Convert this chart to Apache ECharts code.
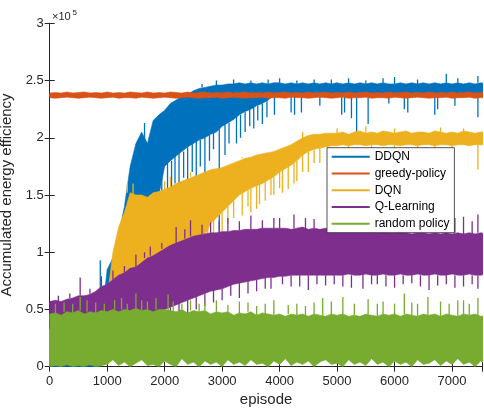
<!DOCTYPE html>
<html>
<head>
<meta charset="utf-8">
<script src="https://cdn.jsdelivr.net/npm/echarts@6/dist/echarts.min.js"></script>
<style>html,body{margin:0;padding:0;background:#fff}#c{width:484px;height:412px}</style>
</head>
<body>
<div id="c"></div>
<script>
// episode sample positions (every 100 episodes)
const episodes = [0,100,200,300,400,500,600,700,800,900,
1000,1100,1200,1300,1400,1500,1600,1700,1800,1900,
2000,2100,2200,2300,2400,2500,2600,2700,2800,2900,
3000,3100,3200,3300,3400,3500,3600,3700,3800,3900,
4000,4100,4200,4300,4400,4500,4600,4700,4800,4900,
5000,5100,5200,5300,5400,5500,5600,5700,5800,5900,
6000,6100,6200,6300,6400,6500,6600,6700,6800,6900,
7000,7100,7200,7300,7400,7500,7600];

// values in units of 10^5: typical upper / lower edge of each noisy curve,
// plus the isolated spikes ([episode, value]) that stick out of the band
const ddqnHi = [0.30,0.31,0.30,0.32,0.30,0.31,0.30,0.31,0.32,0.40,
0.85,0.95,1.15,1.40,1.75,1.95,2.05,1.95,2.15,2.20,
2.24,2.30,2.33,2.36,2.38,2.41,2.43,2.44,2.45,2.46,
2.46,2.47,2.47,2.48,2.47,2.48,2.47,2.48,2.47,2.48,
2.48,2.47,2.48,2.47,2.48,2.47,2.48,2.47,2.48,2.47,
2.48,2.47,2.48,2.47,2.48,2.47,2.48,2.47,2.48,2.47,
2.47,2.48,2.47,2.48,2.47,2.48,2.47,2.48,2.47,2.48,
2.47,2.48,2.47,2.48,2.47,2.48,2.47];
const ddqnLo = [0.00,0.00,0.00,0.00,0.00,0.00,0.00,0.00,0.00,0.00,
0.50,0.60,0.70,0.90,1.05,1.15,1.20,1.25,1.30,1.50,
1.75,1.80,1.84,1.88,1.92,1.95,1.98,2.00,2.03,2.05,
2.10,2.13,2.16,2.20,2.23,2.25,2.28,2.30,2.33,2.37,
2.37,2.37,2.37,2.37,2.37,2.37,2.37,2.37,2.37,2.37,
2.37,2.37,2.37,2.37,2.37,2.37,2.37,2.37,2.37,2.37,
2.37,2.37,2.37,2.37,2.37,2.37,2.37,2.37,2.37,2.37,
2.37,2.37,2.37,2.37,2.37,2.37,2.37];
const ddqnUpSpikes = [[880,0.93],[1650,2.13],[2650,2.47],[2900,2.50],[3200,2.51],[3500,2.50],
[3800,2.51],[4000,2.52],[4300,2.50],[4600,2.51],[4900,2.51],[5200,2.52],[5500,2.50],[5800,2.52],
[6000,2.53],[6400,2.51],[6900,2.56],[7100,2.52],[7450,2.54]];
const ddqnDownSpikes = [[1450,1.45],[1550,1.50],[1620,1.55],[1700,1.45],[1780,1.60],[1850,1.55],
[1950,1.50],[2050,1.45],[2120,1.55],[2180,1.60],[2250,1.50],[2330,1.65],[2400,1.58],[2480,1.70],
[2550,1.63],[2620,1.75],[2700,1.70],[2780,1.80],[2850,1.90],[2950,1.15],[3050,1.85],[3120,1.95],
[3250,1.95],[3320,2.00],[3400,2.05],[3480,2.10],[3550,2.08],[3620,2.15],[3700,2.12],[3780,2.18],
[3910,2.20],[4200,2.22],[4260,2.20],[4380,2.22],[4700,2.28],[5080,2.20],[5130,2.22],[5250,2.17],
[5340,2.05],[5540,2.12],[5900,2.30],[6170,2.25],[6230,2.22],[6700,2.20],[6750,2.25],[7050,2.28],
[7450,2.18]];

const greedyHi = [2.39,2.395,2.39,2.40,2.39,2.395,2.40,2.39,2.395,2.39,
2.40,2.39,2.395,2.39,2.40,2.395,2.39,2.40,2.39,2.395,
2.39,2.40,2.395,2.39,2.40,2.39,2.395,2.40,2.39,2.395,
2.39,2.40,2.39,2.395,2.40,2.39,2.395,2.39,2.40,2.39,
2.395,2.40,2.39,2.395,2.39,2.40,2.39,2.395,2.40,2.39,
2.395,2.39,2.40,2.39,2.395,2.40,2.39,2.395,2.39,2.40,
2.39,2.395,2.40,2.39,2.395,2.39,2.40,2.39,2.395,2.39,
2.40,2.39,2.395,2.40,2.39,2.395,2.39];
const greedyLo = [2.35,2.345,2.35,2.355,2.35,2.345,2.35,2.355,2.35,2.345,
2.35,2.355,2.345,2.35,2.35,2.345,2.355,2.35,2.345,2.35,
2.355,2.35,2.345,2.35,2.355,2.35,2.345,2.35,2.35,2.355,
2.345,2.35,2.355,2.35,2.345,2.35,2.35,2.355,2.345,2.35,
2.35,2.345,2.355,2.35,2.35,2.345,2.35,2.355,2.35,2.345,
2.35,2.355,2.345,2.35,2.35,2.355,2.345,2.35,2.35,2.345,
2.355,2.35,2.345,2.35,2.355,2.35,2.345,2.35,2.35,2.355,
2.345,2.35,2.35,2.355,2.345,2.35,2.35];
const greedyUpSpikes = [];
const greedyDownSpikes = [];

const dqnHi = [0.33,0.33,0.33,0.33,0.33,0.33,0.33,0.33,0.33,0.33,
0.60,1.00,1.22,1.35,1.52,1.50,1.50,1.48,1.52,1.53,
1.55,1.57,1.60,1.62,1.64,1.66,1.68,1.70,1.72,1.73,
1.74,1.76,1.78,1.80,1.82,1.83,1.85,1.86,1.87,1.88,
1.90,1.92,1.94,1.97,2.00,2.02,2.03,2.03,2.04,2.04,
2.04,2.05,2.03,2.05,2.06,2.04,2.05,2.04,2.06,2.05,
2.04,2.05,2.06,2.04,2.05,2.05,2.04,2.06,2.05,2.04,
2.05,2.04,2.06,2.05,2.04,2.05,2.05];
const dqnLo = [0.02,0.02,0.02,0.02,0.02,0.02,0.02,0.02,0.02,0.02,
0.05,0.55,0.60,0.64,0.68,0.72,0.75,0.78,0.82,0.85,
0.90,0.95,0.98,1.00,1.03,1.05,1.10,1.15,1.25,1.30,
1.35,1.40,1.45,1.50,1.53,1.56,1.58,1.60,1.63,1.66,
1.70,1.73,1.76,1.80,1.85,1.88,1.90,1.91,1.92,1.93,
1.93,1.94,1.93,1.94,1.94,1.93,1.94,1.94,1.93,1.94,
1.94,1.93,1.94,1.94,1.93,1.94,1.94,1.93,1.94,1.94,
1.93,1.94,1.94,1.93,1.94,1.94,1.93];
const dqnUpSpikes = [[1350,1.60],[1450,1.60],[2000,1.62],[2100,1.66],[2450,1.70],[3350,1.83],
[4400,2.05],[5000,2.08],[5500,2.10],[6000,2.08],[6800,2.09],[7200,2.08]];
const dqnDownSpikes = [[2600,1.05],[2750,1.10],[2850,1.15],[3000,1.15],[3100,1.25],[3200,1.30],
[3350,1.32],[3450,1.40],[3500,1.35],[3600,1.38],[3650,1.42],[3750,1.45],[3850,1.50],[3900,1.50],
[4000,1.56],[4050,1.52],[4150,1.55],[4250,1.60],[4300,1.62],[4400,1.70],[4500,1.70],[4600,1.78],
[4700,1.78],[5200,1.85],[5600,1.88],[6000,1.87],[6400,1.87],[6700,1.86],[7000,1.88],[7450,1.72]];

const qlHi = [0.57,0.58,0.57,0.59,0.60,0.62,0.62,0.63,0.66,0.70,
0.72,0.76,0.80,0.82,0.86,0.87,0.91,0.95,0.97,1.00,
1.03,1.06,1.08,1.10,1.12,1.14,1.15,1.16,1.17,1.17,
1.18,1.18,1.19,1.19,1.20,1.20,1.20,1.21,1.21,1.21,
1.21,1.21,1.20,1.21,1.22,1.20,1.21,1.20,1.21,1.20,
1.20,1.19,1.20,1.19,1.18,1.19,1.18,1.17,1.18,1.17,
1.17,1.18,1.17,1.16,1.17,1.17,1.16,1.17,1.16,1.17,
1.16,1.17,1.16,1.17,1.16,1.17,1.16];
const qlLo = [0.40,0.40,0.40,0.40,0.40,0.40,0.40,0.40,0.40,0.40,
0.42,0.42,0.43,0.43,0.44,0.44,0.45,0.45,0.46,0.47,
0.50,0.52,0.54,0.56,0.58,0.60,0.62,0.64,0.66,0.67,
0.68,0.70,0.72,0.73,0.74,0.75,0.76,0.77,0.78,0.78,
0.79,0.79,0.80,0.80,0.80,0.80,0.80,0.80,0.80,0.80,
0.80,0.80,0.81,0.80,0.80,0.81,0.80,0.80,0.81,0.80,
0.80,0.81,0.80,0.80,0.81,0.80,0.80,0.81,0.80,0.80,
0.81,0.80,0.80,0.81,0.80,0.80,0.81];
const qlUpSpikes = [[150,0.62],[350,0.64],[530,0.78],[700,0.68],[900,0.79],[1100,0.84],[1300,0.88],
[1500,0.98],[1650,1.00],[1750,1.05],[1950,1.08],[2200,1.22],[2350,1.20],[2450,1.28],[2650,1.24],
[2800,1.26],[2950,1.27],[3100,1.30],[3300,1.27],[3500,1.32],[3700,1.28],[3900,1.30],[4000,1.30],
[4250,1.33],[4450,1.30],[4600,1.29],[4900,1.32],[5100,1.30],[5300,1.34],[5450,1.30],[5600,1.28],
[5900,1.30],[6050,1.27],[6200,1.28],[6350,1.30],[6500,1.34],[6700,1.28],[6900,1.27],[7050,1.30],
[7200,1.31],[7350,1.27],[7450,1.33]];
const qlDownSpikes = [[2100,0.44],[2250,0.46],[2400,0.47],[2550,0.50],[2700,0.53],[2850,0.56],
[3000,0.58],[3150,0.62],[3300,0.60],[3450,0.64],[3600,0.66],[3750,0.68],[3850,0.68],[4050,0.72],
[4200,0.70],[4350,0.70],[4500,0.67],[4650,0.72],[4800,0.71],[4950,0.72],[5100,0.70],[5250,0.69],
[5450,0.68],[5600,0.72],[5700,0.72],[5850,0.70],[6000,0.69],[6150,0.72],[6300,0.73],[6450,0.70],
[6600,0.67],[6750,0.71],[6900,0.72],[7050,0.69],[7200,0.70],[7350,0.72],[7450,0.68]];

const randHi = [0.46,0.47,0.45,0.48,0.47,0.49,0.46,0.48,0.47,0.49,
0.48,0.50,0.48,0.50,0.49,0.51,0.49,0.50,0.48,0.50,
0.50,0.49,0.48,0.50,0.47,0.49,0.48,0.49,0.46,0.48,
0.47,0.48,0.45,0.47,0.46,0.48,0.45,0.47,0.46,0.45,
0.46,0.44,0.46,0.45,0.46,0.44,0.46,0.45,0.44,0.46,
0.45,0.46,0.44,0.45,0.44,0.46,0.45,0.44,0.46,0.45,
0.46,0.44,0.46,0.45,0.44,0.46,0.45,0.46,0.44,0.46,
0.45,0.44,0.46,0.45,0.46,0.44,0.45];
const randLo = [0.00,0.01,0.00,0.02,0.00,0.01,0.00,0.02,0.00,0.01,
0.02,0.06,0.01,0.04,0.00,0.03,0.06,0.01,0.02,0.00,
0.05,0.02,0.00,0.07,0.02,0.04,0.00,0.05,0.02,0.04,
0.00,0.06,0.02,0.04,0.01,0.06,0.02,0.03,0.00,0.05,
0.02,0.07,0.01,0.04,0.02,0.05,0.00,0.04,0.06,0.02,
0.03,0.00,0.06,0.02,0.04,0.01,0.07,0.02,0.04,0.00,
0.05,0.02,0.04,0.00,0.06,0.02,0.03,0.06,0.01,0.05,
0.02,0.07,0.02,0.04,0.00,0.05,0.02];
const randUpSpikes = [[100,0.55],[250,0.56],[400,0.55],[530,0.61],[650,0.58],[800,0.56],[950,0.55],
[1130,0.58],[1250,0.60],[1350,0.55],[1500,0.64],[1600,0.58],[1700,0.57],[1850,0.60],[2060,0.63],
[2150,0.57],[2300,0.55],[2450,0.58],[2600,0.55],[2700,0.56],[2900,0.58],[3100,0.54],[3300,0.57],
[3450,0.56],[3600,0.53],[3750,0.55],[3900,0.58],[4150,0.54],[4300,0.55],[4450,0.53],[4600,0.56],
[4750,0.60],[4900,0.57],[5100,0.61],[5300,0.55],[5540,0.59],[5700,0.55],[5800,0.57],[6000,0.55],
[6170,0.64],[6300,0.56],[6400,0.55],[6580,0.61],[6800,0.57],[6950,0.55],[7100,0.58],[7200,0.58],
[7300,0.55],[7450,0.60]];
const randDownSpikes = [];

const seriesNames = ['DDQN','greedy-policy','DQN','Q-Learning','random policy'];
const seriesColors = ['#0072BD','#D95319','#EDB120','#7E2F8E','#77AC30'];
const yTicks = [0,0.5,1,1.5,2,2.5,3];
const xTicks = [0,1000,2000,3000,4000,5000,6000,7000];

const curves = [
  [ddqnHi, ddqnLo, ddqnUpSpikes, ddqnDownSpikes],
  [greedyHi, greedyLo, greedyUpSpikes, greedyDownSpikes],
  [dqnHi, dqnLo, dqnUpSpikes, dqnDownSpikes],
  [qlHi, qlLo, qlUpSpikes, qlDownSpikes],
  [randHi, randLo, randUpSpikes, randDownSpikes]
];

const FONT = 'Liberation Sans, Arial, Helvetica, sans-serif';
const AX = '#262626';
const STEP = episodes[1] - episodes[0];

const series = [];
curves.forEach(([hi, lo, up, down], k) => {
  const color = seriesColors[k];
  // filled band between the lower and upper edge
  series.push({
    name: seriesNames[k], type: 'custom', clip: true, silent: true,
    color: color, itemStyle: { color: color },
    encode: { x: 0, y: [1, 2] },
    data: episodes.map((e, i) => [e, lo[i], hi[i]]),
    renderItem: function (params, api) {
      if (params.dataIndex !== 0) return null;
      const pts = [];
      for (let i = 0; i < episodes.length; i++) pts.push(api.coord([episodes[i], hi[i]]));
      for (let i = episodes.length - 1; i >= 0; i--) pts.push(api.coord([episodes[i], lo[i]]));
      return { type: 'polygon', shape: { points: pts },
        style: { fill: color, stroke: color, lineWidth: 0.6 } };
    }
  });
  // isolated spikes, each drawn from the band edge to the spike value
  const spikeData = up.map(s => [s[0], s[1], hi[Math.round(s[0] / STEP)]])
    .concat(down.map(s => [s[0], s[1], lo[Math.round(s[0] / STEP)]]));
  if (spikeData.length) {
    series.push({
      name: seriesNames[k] + ' spikes', type: 'custom', clip: true, silent: true,
      color: color, itemStyle: { color: color },
      encode: { x: 0, y: [1, 2] },
      data: spikeData,
      renderItem: function (params, api) {
        const a = api.coord([api.value(0), api.value(1)]);
        const b = api.coord([api.value(0), api.value(2)]);
        return { type: 'line', shape: { x1: a[0], y1: a[1], x2: b[0], y2: b[1] },
          style: { stroke: color, lineWidth: 1.3 } };
      }
    });
  }
});

const chart = echarts.init(document.getElementById('c'), null, { renderer: 'canvas' });
const axisCommon = {
  axisLine: { show: true, lineStyle: { color: AX, width: 1 } },
  axisTick: { show: true, inside: true, length: 5, lineStyle: { color: AX, width: 1 } },
  splitLine: { show: false }
};
chart.setOption({
  animation: false,
  backgroundColor: '#fff',
  grid: { left: 49.7, right: 1.5, top: 23.3, bottom: 45.3, containLabel: false, outerBoundsMode: 'none' },
  xAxis: [
    Object.assign({
      type: 'value', min: 0, max: 7530, interval: 1000, position: 'bottom',
      name: 'episode', nameLocation: 'middle', nameGap: 25,
      nameTextStyle: { fontSize: 15, color: AX, fontFamily: FONT },
      axisLabel: { fontSize: 13, color: AX, fontFamily: FONT, margin: 8,
        formatter: v => xTicks.includes(v) ? String(v) : '' }
    }, axisCommon),
    Object.assign({
      type: 'value', min: 0, max: 7530, interval: 1000, position: 'top',
      axisLabel: { show: false }
    }, axisCommon)
  ],
  yAxis: [
    Object.assign({
      type: 'value', min: 0, max: 3, interval: 0.5, position: 'left',
      name: 'Accumulated energy efficiency', nameLocation: 'middle', nameGap: 29,
      nameTextStyle: { fontSize: 15, color: AX, fontFamily: FONT },
      axisLabel: { fontSize: 13, color: AX, fontFamily: FONT, margin: 6,
        formatter: v => yTicks.includes(v) ? String(v) : '' }
    }, axisCommon),
    Object.assign({
      type: 'value', min: 0, max: 3, interval: 0.5, position: 'right',
      axisLabel: { show: false }
    }, axisCommon)
  ],
  legend: {
    data: seriesNames, orient: 'vertical', left: 327, top: 147.7,
    icon: 'rect', itemWidth: 38, itemHeight: 2, itemGap: 2.75,
    padding: [2, 5, 2, 4.7], borderColor: AX, borderWidth: 0.8, backgroundColor: '#fff',
    selectedMode: false,
    textStyle: { fontSize: 12, color: '#000', lineHeight: 14, fontFamily: FONT }
  },
  graphic: [
    { type: 'text', left: 52, top: 11, silent: true,
      style: { text: '×10', fill: AX, font: '11px ' + FONT } },
    { type: 'text', left: 72.5, top: 8.5, silent: true,
      style: { text: '5', fill: AX, font: '8px ' + FONT } }
  ],
  series: series
});
</script>
</body>
</html>
